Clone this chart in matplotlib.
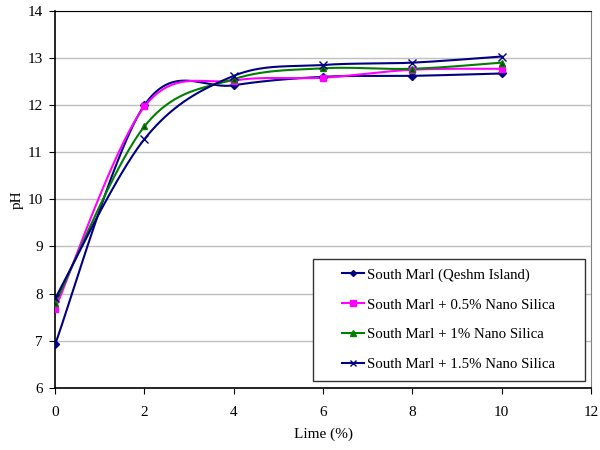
import numpy as np
import matplotlib.pyplot as plt
from matplotlib.patches import Rectangle

plt.rcParams['font.family'] = ['Liberation Serif', 'DejaVu Serif']

lime = [0, 2, 4, 6, 8, 10]
ph_marl = [6.93, 12.0, 12.42, 12.6, 12.62, 12.67]
ph_05 = [7.68, 11.97, 12.52, 12.58, 12.75, 12.77]
ph_1 = [7.8, 11.55, 12.55, 12.78, 12.77, 12.9]
ph_15 = [7.9, 11.28, 12.62, 12.85, 12.9, 13.03]

labels = ['South Marl (Qeshm Island)', 'South Marl + 0.5% Nano Silica',
          'South Marl + 1% Nano Silica', 'South Marl + 1.5% Nano Silica']


def excel_smooth(x, y, n=40):
    # Catmull-Rom style bezier, like Excel's smoothed line
    x = np.asarray(x, float)
    y = np.asarray(y, float)
    px = np.concatenate([[x[0]], x, [x[-1]]])
    py = np.concatenate([[y[0]], y, [y[-1]]])
    xs, ys = [], []
    t = np.linspace(0, 1, n)
    for i in range(1, len(px) - 2):
        p0 = np.array([px[i], py[i]])
        p3 = np.array([px[i + 1], py[i + 1]])
        c1 = p0 + (np.array([px[i + 1], py[i + 1]]) - np.array([px[i - 1], py[i - 1]])) / 6
        c2 = p3 - (np.array([px[i + 2], py[i + 2]]) - np.array([px[i], py[i]])) / 6
        pts = ((1 - t) ** 3)[:, None] * p0 + (3 * (1 - t) ** 2 * t)[:, None] * c1 \
            + (3 * (1 - t) * t ** 2)[:, None] * c2 + (t ** 3)[:, None] * p3
        xs.extend(pts[:, 0])
        ys.extend(pts[:, 1])
    return xs, ys


fig = plt.figure(figsize=(6, 4.5), dpi=100)
ax = fig.add_axes([0.092, 0.138, 0.893, 0.838])

series = [
    (ph_marl, '#000080', 'D', 4),
    (ph_05, '#FF00FF', 's', 5),
    (ph_1, '#008000', '^', 5),
    (ph_15, '#000080', 'x', 6),
]
for (vals, color, mk, ms), lab in zip(series, labels):
    sx, sy = excel_smooth(lime, vals)
    ax.plot(sx, sy, color=color, lw=1.5, zorder=2)
    ax.plot(lime, vals, linestyle='none', marker=mk, color=color, ms=ms,
            markeredgecolor='#000080' if mk == 'x' else color, zorder=3)
    if mk == '^':
        ax.lines[-1].set_markerfacecolor('#004000')
    ax.plot([], [], color=color, marker=mk, ms=ms - 1, lw=1.5, label=lab)

ax.set_xlim(0, 12)
ax.set_ylim(6, 14)
ax.set_xticks(range(0, 13, 2))
ax.set_yticks(range(6, 15))
ax.yaxis.grid(True, color='#c0c0c0', lw=1)
ax.set_axisbelow(True)
ax.tick_params(labelsize=11, direction='out', length=4, color='black')
ax.tick_params(axis='x', pad=9)
ax.tick_params(axis='y', pad=5)
ax.spines['right'].set_color('#808080')
ax.spines['left'].set_linewidth(1.2)
ax.spines['bottom'].set_linewidth(1.2)
ax.set_xlabel('Lime (%)', fontsize=11, labelpad=6)
ax.set_ylabel('pH', fontsize=11, labelpad=3)

# legend box drawn by hand so it gets the wide side margins of the original
box = Rectangle((0.481, 0.019), 0.507, 0.324, transform=ax.transAxes,
                facecolor='white', edgecolor='#333333', lw=1.0, zorder=4)
ax.add_patch(box)
leg = ax.legend(loc='center', bbox_to_anchor=(0.481 + 0.507 / 2, 0.019 + 0.324 / 2),
                fontsize=10.7, frameon=False, handlelength=1.5,
                labelspacing=1.1, borderpad=0.0, handletextpad=0.2)
leg.set_zorder(5)

fig.savefig('out.png', dpi=100)
